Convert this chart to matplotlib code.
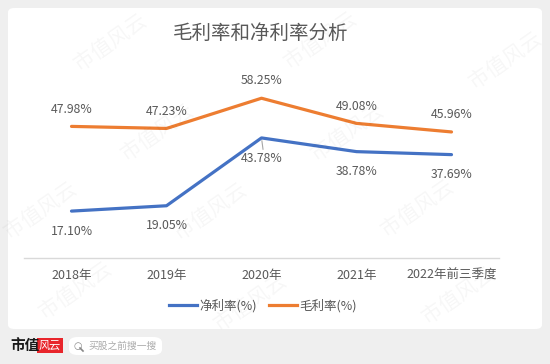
import matplotlib
matplotlib.use("Agg")
import matplotlib.pyplot as plt
from matplotlib.patches import FancyBboxPatch, Rectangle, Circle
from matplotlib.lines import Line2D

plt.rcParams['font.family'] = ['Noto Sans CJK SC', 'DejaVu Sans']

categories = ["2018年", "2019年", "2020年", "2021年", "2022年前三季度"]
net_margin = [17.10, 19.05, 43.78, 38.78, 37.69]
gross_margin = [47.98, 47.23, 58.25, 49.08, 45.96]
net_labels = ["17.10%", "19.05%", "43.78%", "38.78%", "37.69%"]
gross_labels = ["47.98%", "47.23%", "58.25%", "49.08%", "45.96%"]

W, H = 550, 364
fig = plt.figure(figsize=(W / 100, H / 100), dpi=100)
fig.patch.set_facecolor('#efefef')

def fx(px):
    return px / W

def fy(py):
    return 1 - py / H

# white panel
panel = FancyBboxPatch((fx(8), fy(329)), fx(534), 321 / H,
                       boxstyle="round,pad=0,rounding_size=0.012",
                       transform=fig.transFigure, facecolor='white',
                       edgecolor='none', zorder=-5)
fig.patches.append(panel)

# watermarks
wm_pos = [(110, 42), (320, 40), (505, 60), (157, 132), (347, 132),
          (210, 211), (417, 208), (40, 210), (250, 302), (458, 295), (75, 290)]
for (x, y) in wm_pos:
    fig.text(fx(x), fy(y), "市值风云", fontsize=15, rotation=35, color='#000000',
             alpha=0.035, ha='center', va='center', zorder=10)

ax = fig.add_axes([fx(24), fy(258), fx(475), (258 - 66) / H], zorder=2)
ax.set_facecolor('none')
x = list(range(len(categories)))
blue = '#4472C4'
orange = '#ED7D31'
ax.plot(x, net_margin, color=blue, lw=2.3, solid_capstyle='round', zorder=3)
ax.plot(x, gross_margin, color=orange, lw=2.3, solid_capstyle='round', zorder=3)

for i, (v, t) in enumerate(zip(gross_margin, gross_labels)):
    ax.annotate(t, (i, v), xytext=(0, 12.5), textcoords='offset points',
                ha='center', va='center', fontsize=8.8, color='#595959')
for i, (v, t) in enumerate(zip(net_margin, net_labels)):
    ax.annotate(t, (i, v), xytext=(0, -14.5), textcoords='offset points',
                ha='center', va='center', fontsize=8.8, color='#595959')
# leader line for 2020 net label
ax.annotate("", xy=(2, net_margin[2]), xytext=(2.02, net_margin[2] - 5.2),
            arrowprops=dict(arrowstyle='-', color='#a6a6a6', lw=0.8))

ax.set_xlim(-0.5, 4.5)
ax.set_ylim(0, 70)
ax.set_xticks(x)
ax.set_xticklabels(categories, fontsize=9, color='#595959')
ax.tick_params(axis='x', length=0, pad=8)
ax.set_yticks([])
for s in ['top', 'left', 'right']:
    ax.spines[s].set_visible(False)
ax.spines['bottom'].set_color('#d9d9d9')
ax.spines['bottom'].set_linewidth(1)

fig.text(fx(261), fy(33), "毛利率和净利率分析", fontsize=14, color='#595959',
         ha='center', va='center')

handles = [Line2D([], [], color=blue, lw=2.3), Line2D([], [], color=orange, lw=2.3)]
fig.legend(handles, ["净利率(%)", "毛利率(%)"], loc='center',
           bbox_to_anchor=(fx(263), fy(306)), ncol=2, frameon=False,
           fontsize=9, labelcolor='#595959', handlelength=2.2,
           handletextpad=0.2, columnspacing=1.0)

# footer
fig.text(fx(10), fy(345), "市值", fontsize=10.5, fontweight='bold', color='#1a1a1a',
         ha='left', va='center')
fig.patches.append(Rectangle((fx(37), fy(353)), fx(26), 15 / H, transform=fig.transFigure,
                             facecolor='#e8252b', edgecolor='none'))
fig.text(fx(50), fy(345.5), "风云", fontsize=8, color='white', style='italic',
         ha='center', va='center')
pill = FancyBboxPatch((fx(69), fy(355)), fx(93), 18 / H,
                      boxstyle="round,pad=0,rounding_size=0.016",
                      transform=fig.transFigure, facecolor='white', edgecolor='none')
fig.patches.append(pill)
# magnifier icon
fig.lines.append(Line2D([fx(80), fx(83)], [fy(348), fy(351)], transform=fig.transFigure,
                        color='#888888', lw=1.2))
fig.text(fx(78), fy(345.5), "○", fontsize=7, color='#888888', ha='center', va='center',
         family=['DejaVu Sans'])
fig.text(fx(88), fy(346), "买股之前搜一搜", fontsize=7, color='#aaaaaa',
         ha='left', va='center')

fig.savefig("out.png", dpi=100, facecolor=fig.get_facecolor())
